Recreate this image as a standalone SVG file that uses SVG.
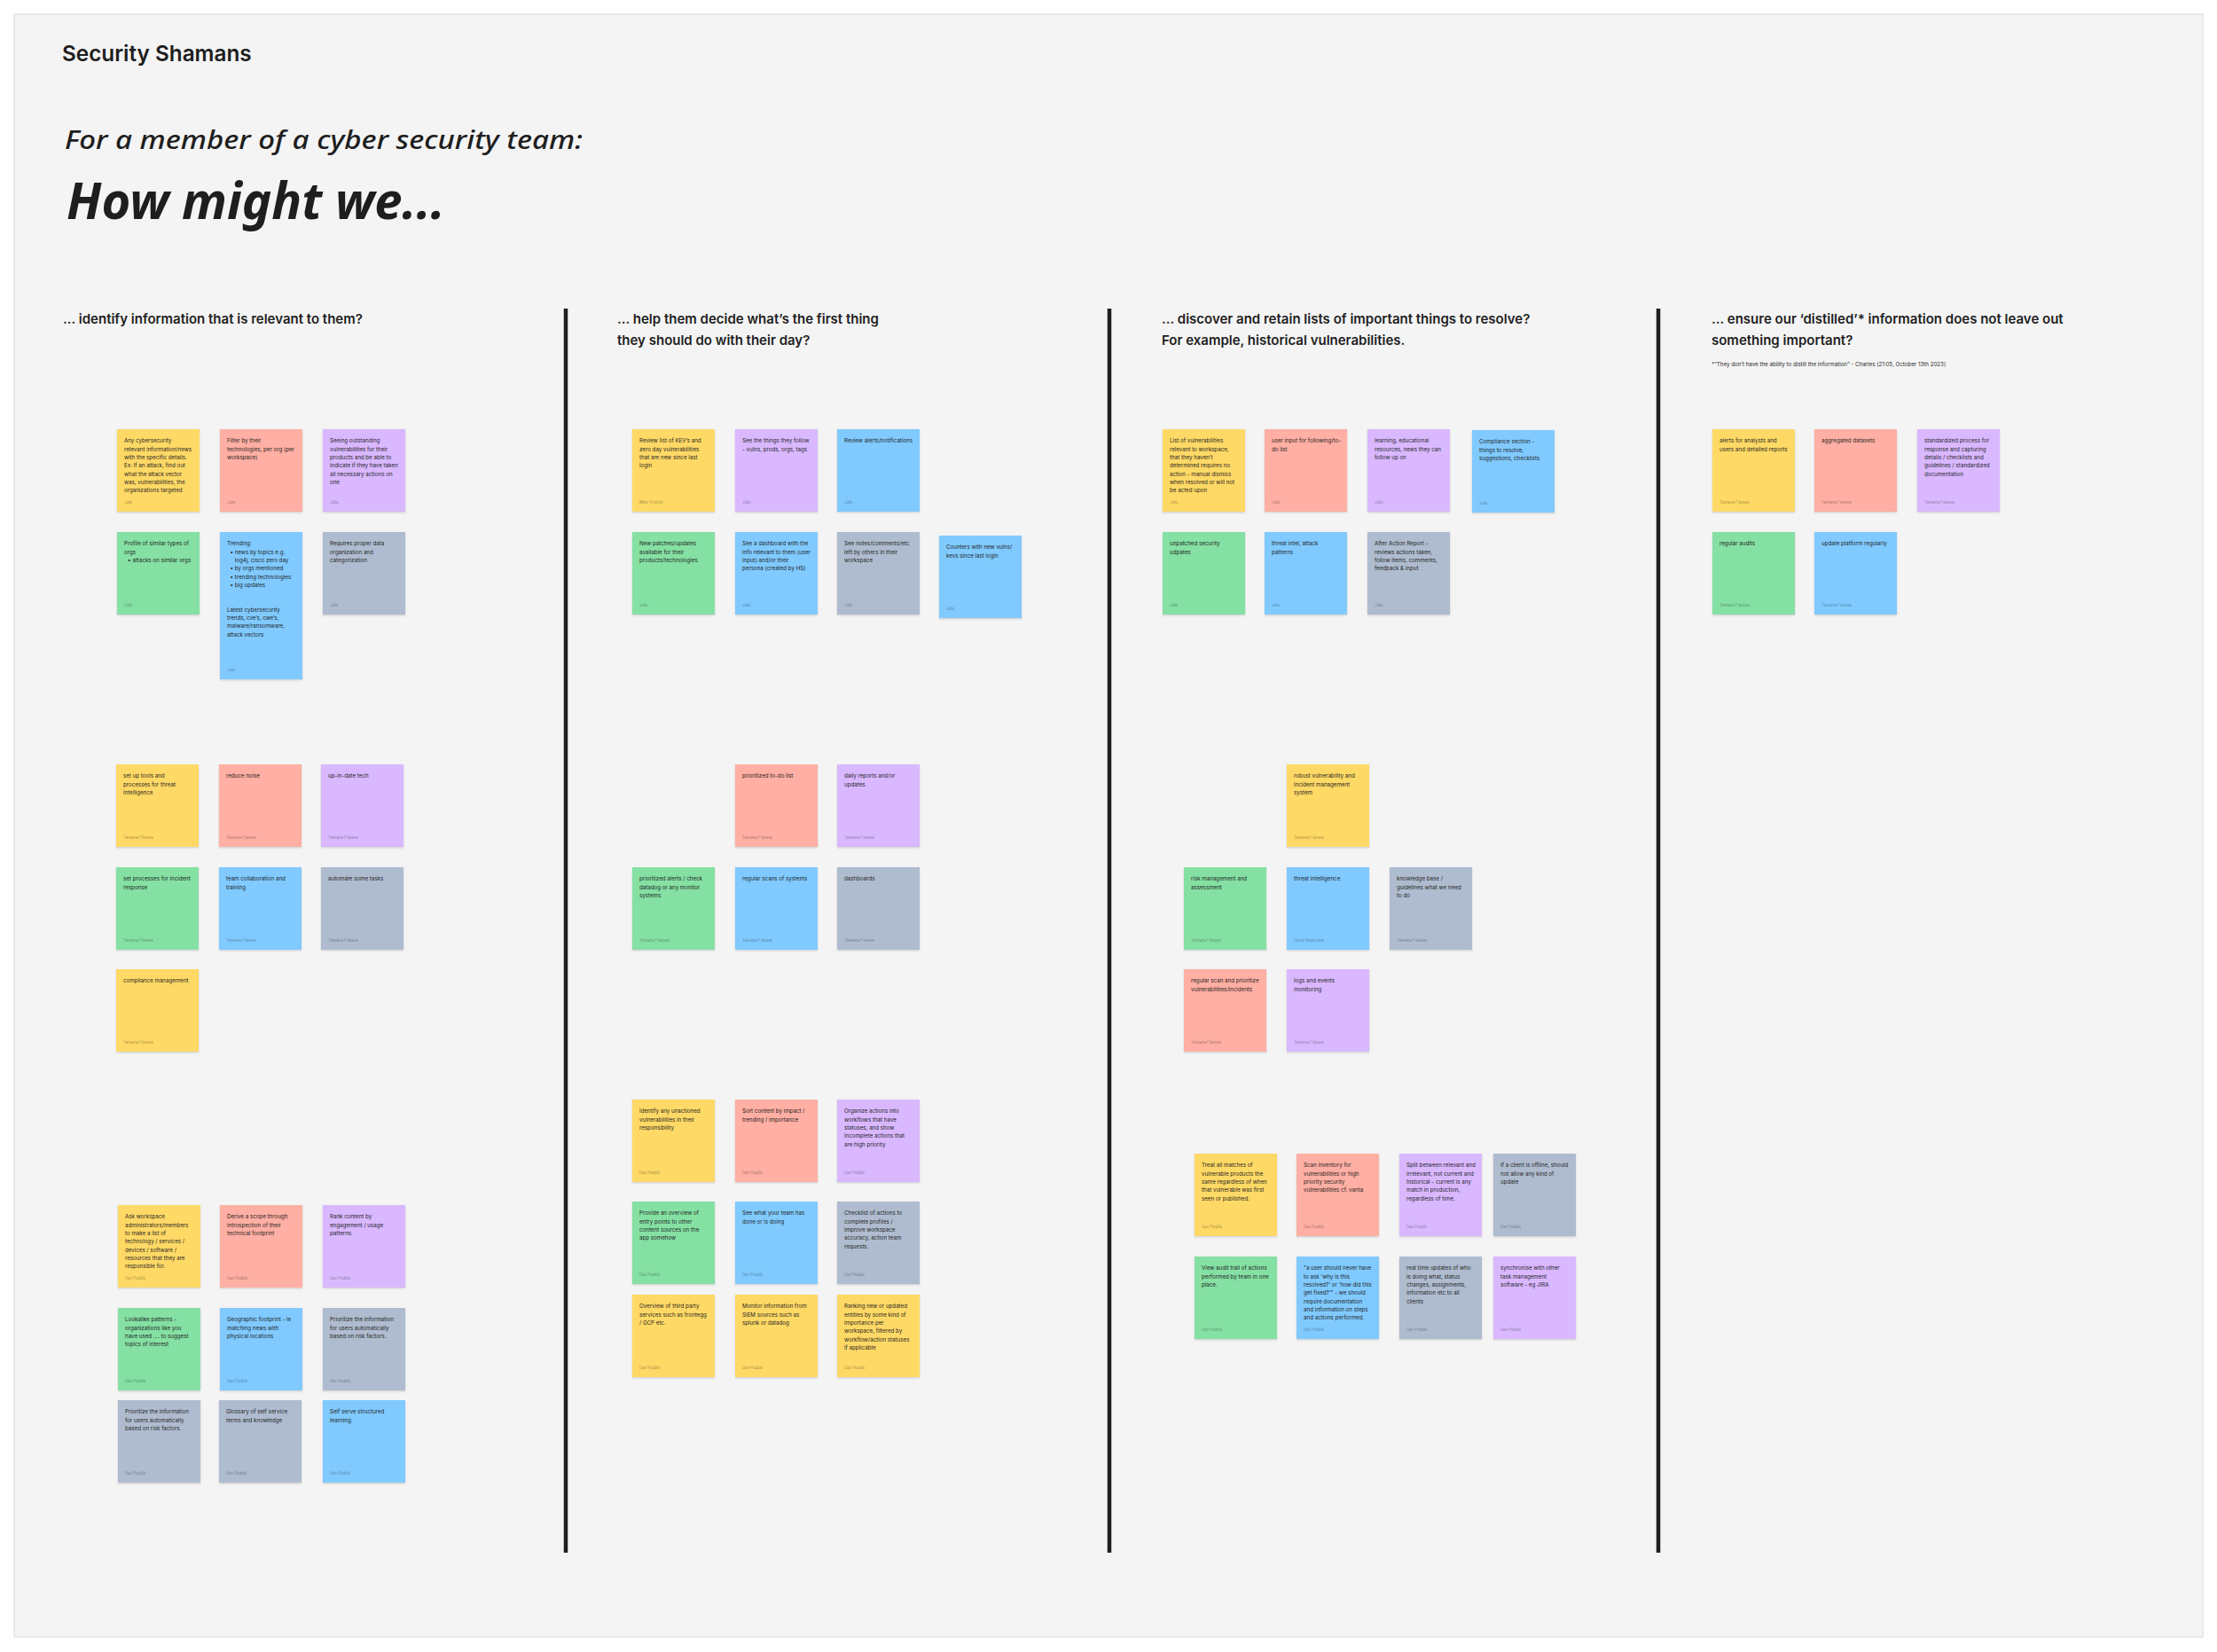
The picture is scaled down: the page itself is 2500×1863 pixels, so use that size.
<svg xmlns="http://www.w3.org/2000/svg" width="2500" height="1863" viewBox="0 0 2500 1863">
<defs>
<filter id="sh" x="-10%" y="-10%" width="120%" height="125%">
<feDropShadow dx="0" dy="1.2" stdDeviation="1.2" flood-color="#000" flood-opacity="0.16"/>
</filter>
<style>
.st{filter:url(#sh)}
.y{fill:#FFD966}.r{fill:#FFAFA3}.v{fill:#D9B8FF}.g{fill:#85E0A3}.b{fill:#80CAFF}.gr{fill:#AFBCCF}
.t{font-family:Inter,"Liberation Sans",sans-serif;font-size:6.2px;fill:#1e1e1e}
.a{font-family:Inter,"Liberation Sans",sans-serif;font-size:4.3px;fill:#000;fill-opacity:0.4}
.h{font-family:Inter,"Liberation Sans",sans-serif;font-size:15px;font-weight:600;fill:#1e1e1e}
.hand{font-family:"Noto Sans","DejaVu Sans",sans-serif;font-style:italic;fill:#1e1e1e}
.div{stroke:#1e1e1e;stroke-width:4.5}
</style>
</defs>
<rect width="2500" height="1863" fill="#ffffff"/>
<rect x="16" y="16" width="2468" height="1830" fill="#f4f4f4" stroke="#e3e3e3" stroke-width="1.5"/>

<g id="title">
<text x="70" y="69" font-family="Inter,'Liberation Sans',sans-serif" font-size="24.3" font-weight="600" fill="#1e1e1e">Security Shamans</text>
<text class="hand" x="73" y="168" font-size="28" font-weight="500" textLength="584" lengthAdjust="spacingAndGlyphs">For a member of a cyber security team:</text>
<text class="hand" x="75" y="247" font-size="58" font-weight="700" textLength="427" lengthAdjust="spacingAndGlyphs">How might we...</text>
</g>

<g id="headers">
<text class="h" x="71" y="365">... identify information that is relevant to them?</text>
<text class="h" x="696" y="365">... help them decide what’s the first thing</text>
<text class="h" x="696" y="389">they should do with their day?</text>
<text class="h" x="1310" y="365">... discover and retain lists of important things to resolve?</text>
<text class="h" x="1310" y="389">For example, historical vulnerabilities.</text>
<text class="h" x="1930" y="365">... ensure our ‘distilled’* information does not leave out</text>
<text class="h" x="1930" y="389">something important?</text>
<text x="1930" y="413" font-family="Inter,'Liberation Sans',sans-serif" font-size="6.2" fill="#1e1e1e">*“They don’t have the ability to distill the information” - Charles (21:05, October 13th 2023)</text>
</g>

<g id="dividers">
<line class="div" x1="638" y1="348" x2="638" y2="1751"/>
<line class="div" x1="1251" y1="348" x2="1251" y2="1751"/>
<line class="div" x1="1870" y1="348" x2="1870" y2="1751"/>
</g>

<g id="connectors"></g>

<!-- Column 1 -->
<g id="c1-1" transform="translate(132,484)"><rect class="st y" width="93" height="93"/><text class="t"><tspan x="8" y="15.3">Any cybersecurity</tspan><tspan x="8" dy="9.33">relevant information/news</tspan><tspan x="8" dy="9.33">with the specific details.</tspan><tspan x="8" dy="9.33">Ex: If an attack, find out</tspan><tspan x="8" dy="9.33">what the attack vector</tspan><tspan x="8" dy="9.33">was, vulnerabilities, the</tspan><tspan x="8" dy="9.33">organizations targeted</tspan></text><text class="a" x="8" y="84">Julie</text></g>
<g id="c1-2" transform="translate(248,484)"><rect class="st r" width="93" height="93"/><text class="t"><tspan x="8" y="15.3">Filter by their</tspan><tspan x="8" dy="9.33">technologies, per org (per</tspan><tspan x="8" dy="9.33">workspace)</tspan></text><text class="a" x="8" y="84">Julie</text></g>
<g id="c1-3" transform="translate(364,484)"><rect class="st v" width="93" height="93"/><text class="t"><tspan x="8" y="15.3">Seeing outstanding</tspan><tspan x="8" dy="9.33">vulnerabilities for their</tspan><tspan x="8" dy="9.33">products and be able to</tspan><tspan x="8" dy="9.33">indicate if they have taken</tspan><tspan x="8" dy="9.33">all necessary actions on</tspan><tspan x="8" dy="9.33">one</tspan></text><text class="a" x="8" y="84">Julie</text></g>
<g id="c1-4" transform="translate(132,600)"><rect class="st g" width="93" height="93"/><text class="t"><tspan x="8" y="15.3">Profile of similar types of</tspan><tspan x="8" dy="9.33">orgs</tspan><tspan x="12" dy="9.33">•</tspan><tspan x="17.5">attacks on similar orgs</tspan></text><text class="a" x="8" y="84">Julie</text></g>
<g id="c1-5" transform="translate(248,600)"><rect class="st b" width="93" height="166"/><text class="t"><tspan x="8" y="15.3">Trending:</tspan><tspan x="11.5" dy="9.33">•</tspan><tspan x="16.7">news by topics e.g.</tspan><tspan x="16.7" dy="9.33">log4j, cisco zero day</tspan><tspan x="11.5" dy="9.33">•</tspan><tspan x="16.7">by orgs mentioned</tspan><tspan x="11.5" dy="9.33">•</tspan><tspan x="16.7">trending technologies</tspan><tspan x="11.5" dy="9.33">•</tspan><tspan x="16.7">big updates</tspan><tspan x="8" y="89.6">Latest cybersecurity</tspan><tspan x="8" dy="9.33">trends, cve’s, cwe’s,</tspan><tspan x="8" dy="9.33">malware/ransomware,</tspan><tspan x="8" dy="9.33">attack vectors</tspan></text><text class="a" x="8" y="157">Julie</text></g>
<g id="c1-6" transform="translate(364,600)"><rect class="st gr" width="93" height="93"/><text class="t"><tspan x="8" y="15.3">Requires proper data</tspan><tspan x="8" dy="9.33">organization and</tspan><tspan x="8" dy="9.33">categorization</tspan></text><text class="a" x="8" y="84">Julie</text></g>

<g id="c1-7" transform="translate(131,862)"><rect class="st y" width="93" height="93"/><text class="t"><tspan x="8" y="15.3">set up tools and</tspan><tspan x="8" dy="9.33">processes for threat</tspan><tspan x="8" dy="9.33">intelligence</tspan></text><text class="a" x="8" y="84">Tatsiana Filatava</text></g>
<g id="c1-8" transform="translate(247,862)"><rect class="st r" width="93" height="93"/><text class="t"><tspan x="8" y="15.3">reduce noise</tspan></text><text class="a" x="8" y="84">Tatsiana Filatava</text></g>
<g id="c1-9" transform="translate(362,862)"><rect class="st v" width="93" height="93"/><text class="t"><tspan x="8" y="15.3">up-in-date tech</tspan></text><text class="a" x="8" y="84">Tatsiana Filatava</text></g>
<g id="c1-10" transform="translate(131,978)"><rect class="st g" width="93" height="93"/><text class="t"><tspan x="8" y="15.3">set processes for incident</tspan><tspan x="8" dy="9.33">response</tspan></text><text class="a" x="8" y="84">Tatsiana Filatava</text></g>
<g id="c1-11" transform="translate(247,978)"><rect class="st b" width="93" height="93"/><text class="t"><tspan x="8" y="15.3">team collaboration and</tspan><tspan x="8" dy="9.33">training</tspan></text><text class="a" x="8" y="84">Tatsiana Filatava</text></g>
<g id="c1-12" transform="translate(362,978)"><rect class="st gr" width="93" height="93"/><text class="t"><tspan x="8" y="15.3">automate some tasks</tspan></text><text class="a" x="8" y="84">Tatsiana Filatava</text></g>
<g id="c1-13" transform="translate(131,1093)"><rect class="st y" width="93" height="93"/><text class="t"><tspan x="8" y="15.3">compliance management</tspan></text><text class="a" x="8" y="84">Tatsiana Filatava</text></g>

<g id="c1-14" transform="translate(133,1359)"><rect class="st y" width="93" height="93"/><text class="t"><tspan x="8" y="15.3">Ask workspace</tspan><tspan x="8" dy="9.33">administrators/members</tspan><tspan x="8" dy="9.33">to make a list of</tspan><tspan x="8" dy="9.33">technology / services /</tspan><tspan x="8" dy="9.33">devices / software /</tspan><tspan x="8" dy="9.33">resources that they are</tspan><tspan x="8" dy="9.33">responsible for.</tspan></text><text class="a" x="8" y="84">Dan Peddle</text></g>
<g id="c1-15" transform="translate(248,1359)"><rect class="st r" width="93" height="93"/><text class="t"><tspan x="8" y="15.3">Derive a scope through</tspan><tspan x="8" dy="9.33">introspection of their</tspan><tspan x="8" dy="9.33">technical footprint</tspan></text><text class="a" x="8" y="84">Dan Peddle</text></g>
<g id="c1-16" transform="translate(364,1359)"><rect class="st v" width="93" height="93"/><text class="t"><tspan x="8" y="15.3">Rank content by</tspan><tspan x="8" dy="9.33">engagement / usage</tspan><tspan x="8" dy="9.33">patterns.</tspan></text><text class="a" x="8" y="84">Dan Peddle</text></g>
<g id="c1-17" transform="translate(133,1475)"><rect class="st g" width="93" height="93"/><text class="t"><tspan x="8" y="15.3">Lookalike patterns -</tspan><tspan x="8" dy="9.33">organizations like you</tspan><tspan x="8" dy="9.33">have used .... to suggest</tspan><tspan x="8" dy="9.33">topics of interest</tspan></text><text class="a" x="8" y="84">Dan Peddle</text></g>
<g id="c1-18" transform="translate(248,1475)"><rect class="st b" width="93" height="93"/><text class="t"><tspan x="8" y="15.3">Geographic footprint - ie</tspan><tspan x="8" dy="9.33">matching news with</tspan><tspan x="8" dy="9.33">physical locations</tspan></text><text class="a" x="8" y="84">Dan Peddle</text></g>
<g id="c1-19" transform="translate(364,1475)"><rect class="st gr" width="93" height="93"/><text class="t"><tspan x="8" y="15.3">Prioritize the information</tspan><tspan x="8" dy="9.33">for users automatically</tspan><tspan x="8" dy="9.33">based on risk factors.</tspan></text><text class="a" x="8" y="84">Dan Peddle</text></g>
<g id="c1-20" transform="translate(133,1579)"><rect class="st gr" width="93" height="93"/><text class="t"><tspan x="8" y="15.3">Prioritize the information</tspan><tspan x="8" dy="9.33">for users automatically</tspan><tspan x="8" dy="9.33">based on risk factors.</tspan></text><text class="a" x="8" y="84">Dan Peddle</text></g>
<g id="c1-21" transform="translate(247,1579)"><rect class="st gr" width="93" height="93"/><text class="t"><tspan x="8" y="15.3">Glossary of self service</tspan><tspan x="8" dy="9.33">terms and knowledge</tspan></text><text class="a" x="8" y="84">Dan Peddle</text></g>
<g id="c1-22" transform="translate(364,1579)"><rect class="st b" width="93" height="93"/><text class="t"><tspan x="8" y="15.3">Self serve structured</tspan><tspan x="8" dy="9.33">learning.</tspan></text><text class="a" x="8" y="84">Dan Peddle</text></g>

<!-- Column 2 -->
<g id="c2-1" transform="translate(713,484)"><rect class="st y" width="93" height="93"/><text class="t"><tspan x="8" y="15.3">Review list of KEV’s and</tspan><tspan x="8" dy="9.33">zero day vulnerabilities</tspan><tspan x="8" dy="9.33">that are new since last</tspan><tspan x="8" dy="9.33">login</tspan></text><text class="a" x="8" y="84">Mike (Visitor)</text></g>
<g id="c2-2" transform="translate(829,484)"><rect class="st v" width="93" height="93"/><text class="t"><tspan x="8" y="15.3">See the things they follow</tspan><tspan x="8" dy="9.33">- vulns, prods, orgs, tags</tspan></text><text class="a" x="8" y="84">Julie</text></g>
<g id="c2-3" transform="translate(944,484)"><rect class="st b" width="93" height="93"/><text class="t"><tspan x="8" y="15.3">Review alerts/notifications</tspan></text><text class="a" x="8" y="84">Julie</text></g>
<g id="c2-4" transform="translate(713,600)"><rect class="st g" width="93" height="93"/><text class="t"><tspan x="8" y="15.3">New patches/updates</tspan><tspan x="8" dy="9.33">available for their</tspan><tspan x="8" dy="9.33">products/technologies</tspan></text><text class="a" x="8" y="84">Julie</text></g>
<g id="c2-5" transform="translate(829,600)"><rect class="st b" width="93" height="93"/><text class="t"><tspan x="8" y="15.3">See a dashboard with the</tspan><tspan x="8" dy="9.33">info relevant to them (user</tspan><tspan x="8" dy="9.33">input) and/or their</tspan><tspan x="8" dy="9.33">persona (created by HS)</tspan></text><text class="a" x="8" y="84">Julie</text></g>
<g id="c2-6" transform="translate(944,600)"><rect class="st gr" width="93" height="93"/><text class="t"><tspan x="8" y="15.3">See notes/comments/etc</tspan><tspan x="8" dy="9.33">left by others in their</tspan><tspan x="8" dy="9.33">workspace</tspan></text><text class="a" x="8" y="84">Julie</text></g>
<g id="c2-7" transform="translate(1059,604)"><rect class="st b" width="93" height="93"/><text class="t"><tspan x="8" y="15.3">Counters with new vulns/</tspan><tspan x="8" dy="9.33">kevs since last login</tspan></text><text class="a" x="8" y="84">Julie</text></g>

<g id="c2-8" transform="translate(829,862)"><rect class="st r" width="93" height="93"/><text class="t"><tspan x="8" y="15.3">prioritized to-do list</tspan></text><text class="a" x="8" y="84">Tatsiana Filatava</text></g>
<g id="c2-9" transform="translate(944,862)"><rect class="st v" width="93" height="93"/><text class="t"><tspan x="8" y="15.3">daily reports and/or</tspan><tspan x="8" dy="9.33">updates</tspan></text><text class="a" x="8" y="84">Tatsiana Filatava</text></g>
<g id="c2-10" transform="translate(713,978)"><rect class="st g" width="93" height="93"/><text class="t"><tspan x="8" y="15.3">prioritized alerts / check</tspan><tspan x="8" dy="9.33">datadog or any monitor</tspan><tspan x="8" dy="9.33">systems</tspan></text><text class="a" x="8" y="84">Tatsiana Filatava</text></g>
<g id="c2-11" transform="translate(829,978)"><rect class="st b" width="93" height="93"/><text class="t"><tspan x="8" y="15.3">regular scans of systems</tspan></text><text class="a" x="8" y="84">Tatsiana Filatava</text></g>
<g id="c2-12" transform="translate(944,978)"><rect class="st gr" width="93" height="93"/><text class="t"><tspan x="8" y="15.3">dashboards</tspan></text><text class="a" x="8" y="84">Tatsiana Filatava</text></g>

<g id="c2-13" transform="translate(713,1240)"><rect class="st y" width="93" height="93"/><text class="t"><tspan x="8" y="15.3">Identify any unactioned</tspan><tspan x="8" dy="9.33">vulnerabilities in their</tspan><tspan x="8" dy="9.33">responsibility</tspan></text><text class="a" x="8" y="84">Dan Peddle</text></g>
<g id="c2-14" transform="translate(829,1240)"><rect class="st r" width="93" height="93"/><text class="t"><tspan x="8" y="15.3">Sort content by impact /</tspan><tspan x="8" dy="9.33">trending / importance</tspan></text><text class="a" x="8" y="84">Dan Peddle</text></g>
<g id="c2-15" transform="translate(944,1240)"><rect class="st v" width="93" height="93"/><text class="t"><tspan x="8" y="15.3">Organize actions into</tspan><tspan x="8" dy="9.33">workflows that have</tspan><tspan x="8" dy="9.33">statuses, and show</tspan><tspan x="8" dy="9.33">incomplete actions that</tspan><tspan x="8" dy="9.33">are high priority</tspan></text><text class="a" x="8" y="84">Dan Peddle</text></g>
<g id="c2-16" transform="translate(713,1355)"><rect class="st g" width="93" height="93"/><text class="t"><tspan x="8" y="15.3">Provide an overview of</tspan><tspan x="8" dy="9.33">entry points to other</tspan><tspan x="8" dy="9.33">content sources on the</tspan><tspan x="8" dy="9.33">app somehow</tspan></text><text class="a" x="8" y="84">Dan Peddle</text></g>
<g id="c2-17" transform="translate(829,1355)"><rect class="st b" width="93" height="93"/><text class="t"><tspan x="8" y="15.3">See what your team has</tspan><tspan x="8" dy="9.33">done or is doing</tspan></text><text class="a" x="8" y="84">Dan Peddle</text></g>
<g id="c2-18" transform="translate(944,1355)"><rect class="st gr" width="93" height="93"/><text class="t"><tspan x="8" y="15.3">Checklist of actions to</tspan><tspan x="8" dy="9.33">complete profiles /</tspan><tspan x="8" dy="9.33">improve workspace</tspan><tspan x="8" dy="9.33">accuracy, action team</tspan><tspan x="8" dy="9.33">requests.</tspan></text><text class="a" x="8" y="84">Dan Peddle</text></g>
<g id="c2-19" transform="translate(713,1460)"><rect class="st y" width="93" height="93"/><text class="t"><tspan x="8" y="15.3">Overview of third party</tspan><tspan x="8" dy="9.33">services such as frontegg</tspan><tspan x="8" dy="9.33">/ GCP etc.</tspan></text><text class="a" x="8" y="84">Dan Peddle</text></g>
<g id="c2-20" transform="translate(829,1460)"><rect class="st y" width="93" height="93"/><text class="t"><tspan x="8" y="15.3">Monitor information from</tspan><tspan x="8" dy="9.33">SIEM sources such as</tspan><tspan x="8" dy="9.33">splunk or datadog</tspan></text><text class="a" x="8" y="84">Dan Peddle</text></g>
<g id="c2-21" transform="translate(944,1460)"><rect class="st y" width="93" height="93"/><text class="t"><tspan x="8" y="15.3">Ranking new or updated</tspan><tspan x="8" dy="9.33">entities by some kind of</tspan><tspan x="8" dy="9.33">importance per</tspan><tspan x="8" dy="9.33">workspace, filtered by</tspan><tspan x="8" dy="9.33">workflow/action statuses</tspan><tspan x="8" dy="9.33">if applicable</tspan></text><text class="a" x="8" y="84">Dan Peddle</text></g>

<!-- Column 3 -->
<g id="c3-1" transform="translate(1311,484)"><rect class="st y" width="93" height="93"/><text class="t"><tspan x="8" y="15.3">List of vulnerabilities</tspan><tspan x="8" dy="9.33">relevant to workspace,</tspan><tspan x="8" dy="9.33">that they haven’t</tspan><tspan x="8" dy="9.33">determined requires no</tspan><tspan x="8" dy="9.33">action - manual dismiss</tspan><tspan x="8" dy="9.33">when resolved or will not</tspan><tspan x="8" dy="9.33">be acted upon</tspan></text><text class="a" x="8" y="84">Julie</text></g>
<g id="c3-2" transform="translate(1426,484)"><rect class="st r" width="93" height="93"/><text class="t"><tspan x="8" y="15.3">user input for following/to-</tspan><tspan x="8" dy="9.33">do list</tspan></text><text class="a" x="8" y="84">Julie</text></g>
<g id="c3-3" transform="translate(1542,484)"><rect class="st v" width="93" height="93"/><text class="t"><tspan x="8" y="15.3">learning, educational</tspan><tspan x="8" dy="9.33">resources, news they can</tspan><tspan x="8" dy="9.33">follow up on</tspan></text><text class="a" x="8" y="84">Julie</text></g>
<g id="c3-4" transform="translate(1660,485)"><rect class="st b" width="93" height="93"/><text class="t"><tspan x="8" y="15.3">Compliance section -</tspan><tspan x="8" dy="9.33">things to resolve,</tspan><tspan x="8" dy="9.33">suggestions, checklists</tspan></text><text class="a" x="8" y="84">Julie</text></g>
<g id="c3-5" transform="translate(1311,600)"><rect class="st g" width="93" height="93"/><text class="t"><tspan x="8" y="15.3">unpatched security</tspan><tspan x="8" dy="9.33">udpates</tspan></text><text class="a" x="8" y="84">Julie</text></g>
<g id="c3-6" transform="translate(1426,600)"><rect class="st b" width="93" height="93"/><text class="t"><tspan x="8" y="15.3">threat intel, attack</tspan><tspan x="8" dy="9.33">patterns</tspan></text><text class="a" x="8" y="84">Julie</text></g>
<g id="c3-7" transform="translate(1542,600)"><rect class="st gr" width="93" height="93"/><text class="t"><tspan x="8" y="15.3">After Action Report -</tspan><tspan x="8" dy="9.33">reviews actions taken,</tspan><tspan x="8" dy="9.33">follow items, comments,</tspan><tspan x="8" dy="9.33">feedback &amp; input</tspan></text><text class="a" x="8" y="84">Julie</text></g>

<g id="c3-8" transform="translate(1451,862)"><rect class="st y" width="93" height="93"/><text class="t"><tspan x="8" y="15.3">robust vulnerability and</tspan><tspan x="8" dy="9.33">incident management</tspan><tspan x="8" dy="9.33">system</tspan></text><text class="a" x="8" y="84">Tatsiana Filatava</text></g>
<g id="c3-9" transform="translate(1335,978)"><rect class="st g" width="93" height="93"/><text class="t"><tspan x="8" y="15.3">risk management and</tspan><tspan x="8" dy="9.33">assessment</tspan></text><text class="a" x="8" y="84">Tatsiana Filatava</text></g>
<g id="c3-10" transform="translate(1451,978)"><rect class="st b" width="93" height="93"/><text class="t"><tspan x="8" y="15.3">threat intelligence</tspan></text><text class="a" x="8" y="84">Jared Radscrane</text></g>
<g id="c3-11" transform="translate(1567,978)"><rect class="st gr" width="93" height="93"/><text class="t"><tspan x="8" y="15.3">knowledge base /</tspan><tspan x="8" dy="9.33">guidelines what we need</tspan><tspan x="8" dy="9.33">to do</tspan></text><text class="a" x="8" y="84">Tatsiana Filatava</text></g>
<g id="c3-12" transform="translate(1335,1093)"><rect class="st r" width="93" height="93"/><text class="t"><tspan x="8" y="15.3">regular scan and prioritize</tspan><tspan x="8" dy="9.33">vulnerabilities/incidents</tspan></text><text class="a" x="8" y="84">Tatsiana Filatava</text></g>
<g id="c3-13" transform="translate(1451,1093)"><rect class="st v" width="93" height="93"/><text class="t"><tspan x="8" y="15.3">logs and events</tspan><tspan x="8" dy="9.33">monitoring</tspan></text><text class="a" x="8" y="84">Tatsiana Filatava</text></g>

<g id="c3-14" transform="translate(1347,1301)"><rect class="st y" width="93" height="93"/><text class="t"><tspan x="8" y="15.3">Treat all matches of</tspan><tspan x="8" dy="9.33">vulnerable products the</tspan><tspan x="8" dy="9.33">same regardless of when</tspan><tspan x="8" dy="9.33">that vulnerable was first</tspan><tspan x="8" dy="9.33">seen or published.</tspan></text><text class="a" x="8" y="84">Dan Peddle</text></g>
<g id="c3-15" transform="translate(1462,1301)"><rect class="st r" width="93" height="93"/><text class="t"><tspan x="8" y="15.3">Scan inventory for</tspan><tspan x="8" dy="9.33">vulnerabilities or high</tspan><tspan x="8" dy="9.33">priority security</tspan><tspan x="8" dy="9.33">vulnerabilities cf. vanta</tspan></text><text class="a" x="8" y="84">Dan Peddle</text></g>
<g id="c3-16" transform="translate(1578,1301)"><rect class="st v" width="93" height="93"/><text class="t"><tspan x="8" y="15.3">Split between relevant and</tspan><tspan x="8" dy="9.33">irrelevant, not current and</tspan><tspan x="8" dy="9.33">historical - current is any</tspan><tspan x="8" dy="9.33">match in production,</tspan><tspan x="8" dy="9.33">regardless of time.</tspan></text><text class="a" x="8" y="84">Dan Peddle</text></g>
<g id="c3-17" transform="translate(1684,1301)"><rect class="st gr" width="93" height="93"/><text class="t"><tspan x="8" y="15.3">If a client is offline, should</tspan><tspan x="8" dy="9.33">not allow any kind of</tspan><tspan x="8" dy="9.33">update</tspan></text><text class="a" x="8" y="84">Dan Peddle</text></g>
<g id="c3-18" transform="translate(1347,1417)"><rect class="st g" width="93" height="93"/><text class="t"><tspan x="8" y="15.3">View audit trail of actions</tspan><tspan x="8" dy="9.33">performed by team in one</tspan><tspan x="8" dy="9.33">place.</tspan></text><text class="a" x="8" y="84">Dan Peddle</text></g>
<g id="c3-19" transform="translate(1462,1417)"><rect class="st b" width="93" height="93"/><text class="t"><tspan x="8" y="15.3">"a user should never have</tspan><tspan x="8" dy="9.33">to ask 'why is this</tspan><tspan x="8" dy="9.33">resolved?' or 'how did this</tspan><tspan x="8" dy="9.33">get fixed?'" - we should</tspan><tspan x="8" dy="9.33">require documentation</tspan><tspan x="8" dy="9.33">and information on steps</tspan><tspan x="8" dy="9.33">and actions performed.</tspan></text><text class="a" x="8" y="84">Dan Peddle</text></g>
<g id="c3-20" transform="translate(1578,1417)"><rect class="st gr" width="93" height="93"/><text class="t"><tspan x="8" y="15.3">real time updates of who</tspan><tspan x="8" dy="9.33">is doing what, status</tspan><tspan x="8" dy="9.33">changes, assignments,</tspan><tspan x="8" dy="9.33">information etc to all</tspan><tspan x="8" dy="9.33">clients</tspan></text><text class="a" x="8" y="84">Dan Peddle</text></g>
<g id="c3-21" transform="translate(1684,1417)"><rect class="st v" width="93" height="93"/><text class="t"><tspan x="8" y="15.3">synchronise with other</tspan><tspan x="8" dy="9.33">task management</tspan><tspan x="8" dy="9.33">software - eg JIRA</tspan></text><text class="a" x="8" y="84">Dan Peddle</text></g>

<!-- Column 4 -->
<g id="c4-1" transform="translate(1931,484)"><rect class="st y" width="93" height="93"/><text class="t"><tspan x="8" y="15.3">alerts for analysts and</tspan><tspan x="8" dy="9.33">users and detailed reports</tspan></text><text class="a" x="8" y="84">Tatsiana Filatava</text></g>
<g id="c4-2" transform="translate(2046,484)"><rect class="st r" width="93" height="93"/><text class="t"><tspan x="8" y="15.3">aggregated datasets</tspan></text><text class="a" x="8" y="84">Tatsiana Filatava</text></g>
<g id="c4-3" transform="translate(2162,484)"><rect class="st v" width="93" height="93"/><text class="t"><tspan x="8" y="15.3">standardized process for</tspan><tspan x="8" dy="9.33">response and capturing</tspan><tspan x="8" dy="9.33">details / checklists and</tspan><tspan x="8" dy="9.33">guidelines / standardized</tspan><tspan x="8" dy="9.33">documentation</tspan></text><text class="a" x="8" y="84">Tatsiana Filatava</text></g>
<g id="c4-4" transform="translate(1931,600)"><rect class="st g" width="93" height="93"/><text class="t"><tspan x="8" y="15.3">regular audits</tspan></text><text class="a" x="8" y="84">Tatsiana Filatava</text></g>
<g id="c4-5" transform="translate(2046,600)"><rect class="st b" width="93" height="93"/><text class="t"><tspan x="8" y="15.3">update platform regularly</tspan></text><text class="a" x="8" y="84">Tatsiana Filatava</text></g>
</svg>
